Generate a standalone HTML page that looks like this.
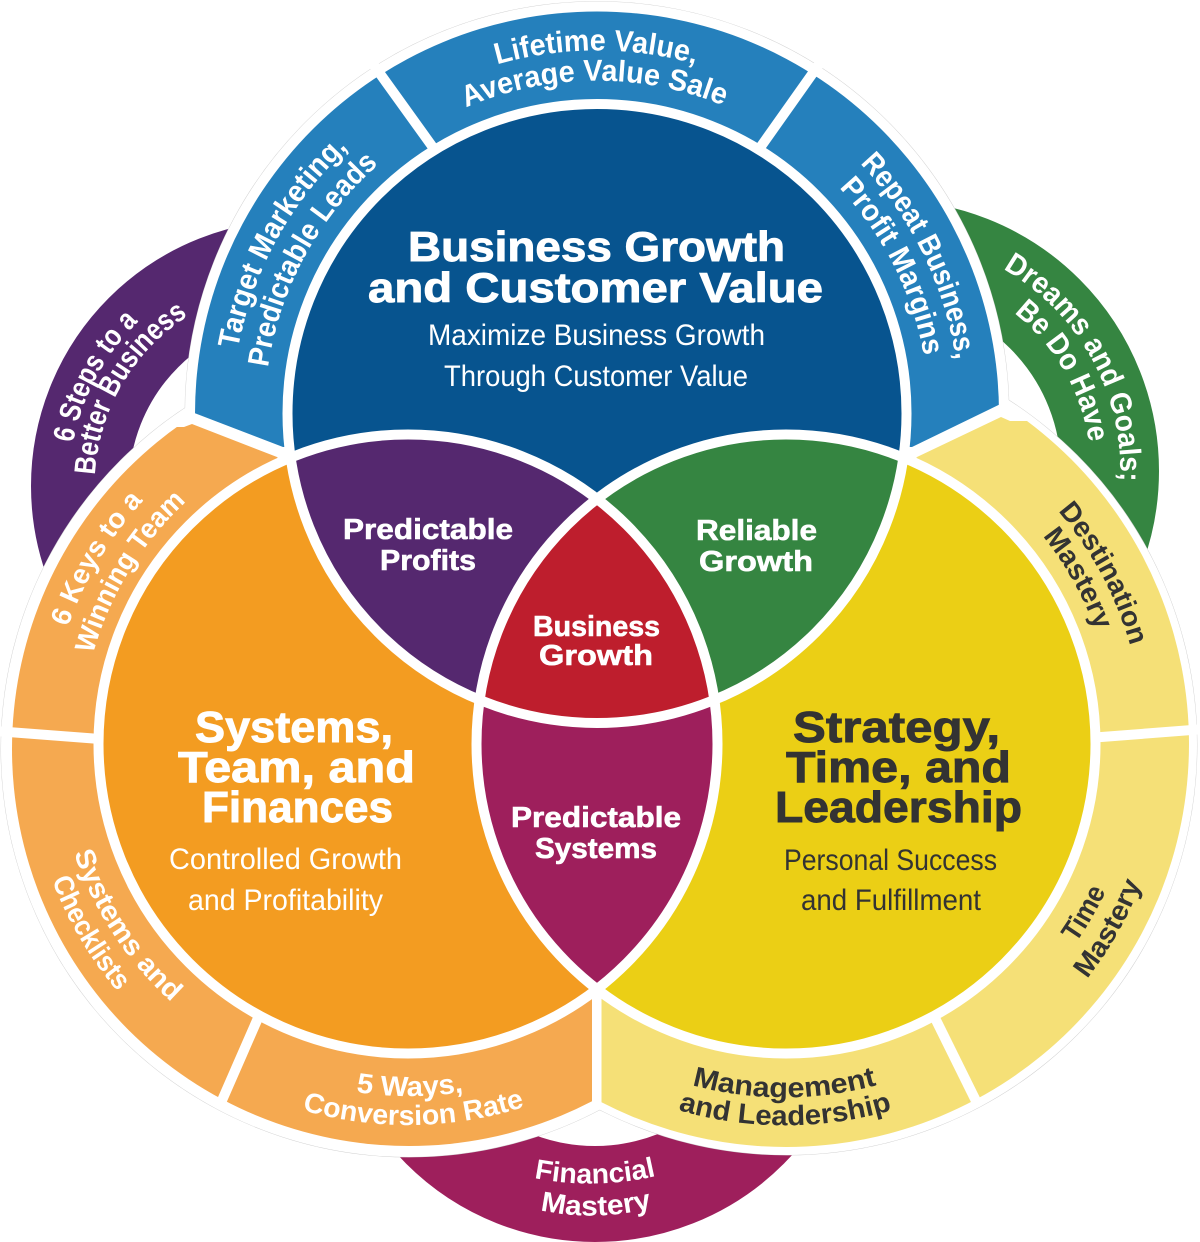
<!DOCTYPE html>
<html><head><meta charset="utf-8"><style>
html,body{margin:0;padding:0;background:#fff}
svg{display:block}
text{font-family:"Liberation Sans",sans-serif}
.b{font-weight:700}
.w{fill:#fff}.d{fill:#333}
.sw{stroke:#fff}.sd{stroke:#333}
</style></head><body>
<svg width="1200" height="1242" viewBox="0 0 1200 1242" xmlns="http://www.w3.org/2000/svg">
<defs>
<clipPath id="cT"><circle cx="597" cy="413.5" r="309.5"/></clipPath>
<clipPath id="cL"><circle cx="408" cy="744" r="309.5"/></clipPath>
<clipPath id="cR"><circle cx="786" cy="744" r="309.5"/></clipPath>
<clipPath id="pT"><polygon points="283,447 150,396 150,-20 1050,-20 1050,380 912,447"/></clipPath>
<clipPath id="pL"><polygon points="277,457 192,424 184,427 -20,427 -20,1200 592,1200 592,990 500,700"/></clipPath>
<clipPath id="pR"><polygon points="917,457 1001,417 1010,421 1220,421 1220,1200 601.5,1200 601.5,990 700,700"/></clipPath>
<path id="a1" d="M497,64.5 A363 363 0 0 1 697,64.5"/>
<path id="a2" d="M466,107.5 A333 333 0 0 1 728,107.5"/>
<path id="a3" d="M238,349 A365 365 0 0 1 348,148"/>
<path id="a4" d="M268,367.5 A332 332 0 0 1 378,165"/>
<path id="a5" d="M860,163.5 A363 363 0 0 1 956,359.8"/>
<path id="a6" d="M839,187.7 A331 331 0 0 1 924,356"/>
<path id="a7" d="M68,627 A360 360 0 0 1 143,501"/>
<path id="a8" d="M93,654 A328 328 0 0 1 187,501"/>
<path id="a9" d="M74,853 A350 350 0 0 0 171,1001.6"/>
<path id="a10" d="M52,880 A381 381 0 0 0 118,992"/>
<path id="a11" d="M356,1092 A352 352 0 0 0 463,1092"/>
<path id="a12" d="M302,1110 A381 381 0 0 0 525,1106.6"/>
<path id="a13" d="M692,1085 A352 352 0 0 0 877,1085"/>
<path id="a14" d="M678,1110 A381 381 0 0 0 892,1110"/>
<path id="a15" d="M1058,511 A358 358 0 0 1 1130,645"/>
<path id="a16" d="M1042.6,536 A330 330 0 0 1 1096,631"/>
<path id="a17" d="M1076,943 A352 352 0 0 0 1104.5,894"/>
<path id="a18" d="M1087,979 A382 382 0 0 0 1141,884"/>
<path id="a19" d="M73,443 A228 228 0 0 1 139,321"/>
<path id="a20" d="M95,475 A202 202 0 0 1 188,316"/>
<path id="a21" d="M1003,269 A232 232 0 0 1 1120,483"/>
<path id="a22" d="M1014,313 A202 202 0 0 1 1089,443"/>
<path id="a23" d="M534,1178 Q595,1190 656,1176"/>
<path id="a24" d="M540,1210 Q595,1222 652,1208"/>
</defs>

<!-- back arcs -->
<circle cx="297" cy="486" r="217" fill="none" stroke="#55286F" stroke-width="98"/>
<circle cx="888" cy="471" r="222" fill="none" stroke="#358541" stroke-width="98"/>
<circle cx="595" cy="975" r="219" fill="none" stroke="#9E1F5C" stroke-width="96"/>

<!-- halos -->
<g fill="none" stroke="#cfcfcf" stroke-width="0.8">
<circle cx="597" cy="413.5" r="412"/>
<circle cx="409" cy="749" r="408"/>
<circle cx="787" cy="745" r="410"/>
</g>
<g fill="#fff">
<circle cx="597" cy="413.5" r="412"/>
<circle cx="409" cy="749" r="408"/>
<circle cx="787" cy="745" r="410"/>
</g>

<!-- rings -->
<circle cx="597" cy="413.5" r="402" fill="#2580BC" clip-path="url(#pT)"/>
<circle cx="409" cy="749" r="397" fill="#F5A950" clip-path="url(#pL)"/>
<circle cx="786" cy="744" r="403" fill="#F5E077" clip-path="url(#pR)"/>

<!-- dividers -->
<g stroke="#fff" stroke-width="10" fill="none">
<line x1="373" y1="64" x2="437" y2="153"/>
<line x1="820" y1="63" x2="757" y2="152"/>
<line x1="-5" y1="731" x2="100" y2="739"/>
<line x1="258" y1="1018" x2="220" y2="1105"/>
<line x1="935" y1="1018" x2="978" y2="1105"/>
<line x1="1095" y1="737.5" x2="1205" y2="729"/>
</g>

<!-- main circles -->
<circle cx="597" cy="413.5" r="309.5" fill="#07548F"/>
<circle cx="408" cy="744" r="309.5" fill="#F39C21"/>
<circle cx="786" cy="744" r="309.5" fill="#EBCF15"/>
<g clip-path="url(#cT)"><circle cx="408" cy="744" r="309.5" fill="#55286F"/></g>
<g clip-path="url(#cT)"><circle cx="786" cy="744" r="309.5" fill="#358541"/></g>
<g clip-path="url(#cL)"><circle cx="786" cy="744" r="309.5" fill="#9E1F5C"/></g>
<g clip-path="url(#cT)"><g clip-path="url(#cL)"><circle cx="786" cy="744" r="309.5" fill="#BE1E2D"/></g></g>
<g fill="none" stroke="#fff" stroke-width="10">
<circle cx="597" cy="413.5" r="309.5"/>
<circle cx="408" cy="744" r="309.5"/>
<circle cx="786" cy="744" r="309.5"/>
</g>

<!-- straight text -->
<g class="b w sw" font-size="42" stroke-width="0.9">
<text x="408" y="261" textLength="377" lengthAdjust="spacingAndGlyphs">Business Growth</text>
<text x="368" y="302" textLength="455" lengthAdjust="spacingAndGlyphs">and Customer Value</text>
</g>
<g class="w" font-size="30">
<text x="428" y="345" textLength="337" lengthAdjust="spacingAndGlyphs">Maximize Business Growth</text>
<text x="444" y="386" textLength="304" lengthAdjust="spacingAndGlyphs">Through Customer Value</text>
<text x="169" y="869" textLength="233" lengthAdjust="spacingAndGlyphs">Controlled Growth</text>
<text x="188" y="910" textLength="195" lengthAdjust="spacingAndGlyphs">and Profitability</text>
</g>
<g class="d" font-size="30">
<text x="784" y="870" textLength="213" lengthAdjust="spacingAndGlyphs">Personal Success</text>
<text x="801" y="910" textLength="180" lengthAdjust="spacingAndGlyphs">and Fulfillment</text>
</g>
<g class="b w sw" font-size="29" stroke-width="0.6">
<text x="343" y="539" textLength="170" lengthAdjust="spacingAndGlyphs">Predictable</text>
<text x="380" y="570" textLength="96" lengthAdjust="spacingAndGlyphs">Profits</text>
<text x="696" y="540" textLength="121" lengthAdjust="spacingAndGlyphs">Reliable</text>
<text x="699" y="571" textLength="114" lengthAdjust="spacingAndGlyphs">Growth</text>
<text x="533" y="636" textLength="127" lengthAdjust="spacingAndGlyphs">Business</text>
<text x="539" y="665" textLength="114" lengthAdjust="spacingAndGlyphs">Growth</text>
<text x="511" y="827" textLength="170" lengthAdjust="spacingAndGlyphs">Predictable</text>
<text x="535" y="858" textLength="122" lengthAdjust="spacingAndGlyphs">Systems</text>
</g>
<g class="b w sw" font-size="44" stroke-width="0.9">
<text x="195" y="742" textLength="198" lengthAdjust="spacingAndGlyphs">Systems,</text>
<text x="178" y="782" textLength="237" lengthAdjust="spacingAndGlyphs">Team, and</text>
<text x="202" y="822" textLength="191" lengthAdjust="spacingAndGlyphs">Finances</text>
</g>
<g class="b d sd" font-size="44" stroke-width="0.9">
<text x="793" y="742" textLength="207" lengthAdjust="spacingAndGlyphs">Strategy,</text>
<text x="786" y="782" textLength="225" lengthAdjust="spacingAndGlyphs">Time, and</text>
<text x="775" y="822" textLength="247" lengthAdjust="spacingAndGlyphs">Leadership</text>
</g>

<!-- curved text -->
<g class="b w" font-size="30">
<text><textPath href="#a1" textLength="201" lengthAdjust="spacingAndGlyphs">Lifetime Value,</textPath></text>
<text><textPath href="#a2" textLength="264" lengthAdjust="spacingAndGlyphs">Average Value Sale</textPath></text>
<text><textPath href="#a3" textLength="233" lengthAdjust="spacingAndGlyphs">Target Marketing,</textPath></text>
<text><textPath href="#a4" textLength="236" lengthAdjust="spacingAndGlyphs">Predictable Leads</textPath></text>
<text><textPath href="#a5" textLength="222" lengthAdjust="spacingAndGlyphs">Repeat Business,</textPath></text>
<text><textPath href="#a6" textLength="191" lengthAdjust="spacingAndGlyphs">Profit Margins</textPath></text>
<text><textPath href="#a19" textLength="140" lengthAdjust="spacingAndGlyphs">6 Steps to a</textPath></text>
<text><textPath href="#a20" textLength="191" lengthAdjust="spacingAndGlyphs">Better Business</textPath></text>
<text><textPath href="#a21" textLength="255" lengthAdjust="spacingAndGlyphs">Dreams and Goals;</textPath></text>
<text><textPath href="#a22" textLength="153" lengthAdjust="spacingAndGlyphs">Be Do Have</textPath></text>
</g>
<g class="b w" font-size="28">
<text><textPath href="#a7" textLength="148" lengthAdjust="spacingAndGlyphs">6 Keys to a</textPath></text>
<text><textPath href="#a8" textLength="181" lengthAdjust="spacingAndGlyphs">Winning Team</textPath></text>
<text><textPath href="#a9" textLength="180" lengthAdjust="spacingAndGlyphs">Systems and</textPath></text>
<text><textPath href="#a10" textLength="130" lengthAdjust="spacingAndGlyphs">Checklists</textPath></text>
<text><textPath href="#a11" textLength="108" lengthAdjust="spacingAndGlyphs">5 Ways,</textPath></text>
<text><textPath href="#a12" textLength="226" lengthAdjust="spacingAndGlyphs">Conversion Rate</textPath></text>
<text><textPath href="#a23" textLength="123" lengthAdjust="spacingAndGlyphs">Financial</textPath></text>
<text><textPath href="#a24" textLength="113" lengthAdjust="spacingAndGlyphs">Mastery</textPath></text>
</g>
<g class="b d" font-size="28">
<text><textPath href="#a13" textLength="187" lengthAdjust="spacingAndGlyphs">Management</textPath></text>
<text><textPath href="#a14" textLength="217" lengthAdjust="spacingAndGlyphs">and Leadership</textPath></text>
<text><textPath href="#a15" textLength="154" lengthAdjust="spacingAndGlyphs">Destination</textPath></text>
<text><textPath href="#a16" textLength="109" lengthAdjust="spacingAndGlyphs">Mastery</textPath></text>
<text><textPath href="#a17" textLength="60" lengthAdjust="spacingAndGlyphs">Time</textPath></text>
<text><textPath href="#a18" textLength="110" lengthAdjust="spacingAndGlyphs">Mastery</textPath></text>
</g>
</svg>
</body></html>
